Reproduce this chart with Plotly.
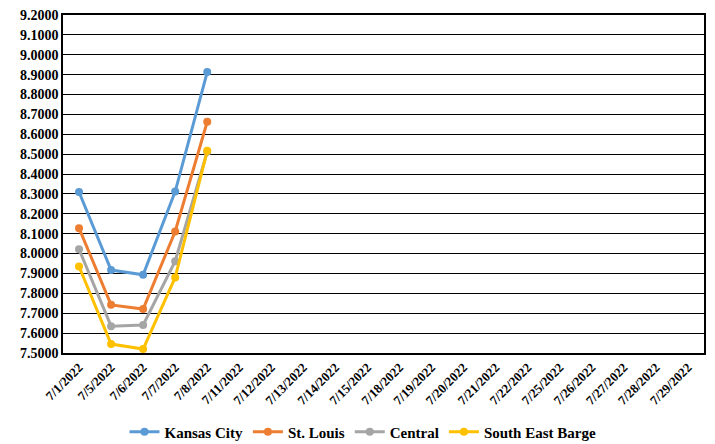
import plotly.graph_objs as go

dates = ['7/1/2022', '7/5/2022', '7/6/2022', '7/7/2022', '7/8/2022', '7/11/2022', '7/12/2022',
         '7/13/2022', '7/14/2022', '7/15/2022', '7/18/2022', '7/19/2022', '7/20/2022', '7/21/2022',
         '7/22/2022', '7/25/2022', '7/26/2022', '7/27/2022', '7/28/2022', '7/29/2022']

kansas_city = [8.310, 7.917, 7.893, 8.312, 8.913]
st_louis = [8.128, 7.742, 7.721, 8.111, 8.663]
central = [8.022, 7.635, 7.641, 7.962, 8.512]
south_east_barge = [7.935, 7.545, 7.520, 7.880, 8.517]

series = [
    ('Kansas City', kansas_city, '#5B9BD5'),
    ('St. Louis', st_louis, '#ED7D31'),
    ('Central', central, '#A5A5A5'),
    ('South East Barge', south_east_barge, '#FFC000'),
]

serif = 'Times New Roman'

data = []
for name, values, color in series:
    data.append(go.Scatter(x=dates[:len(values)],
                           y=values,
                           name=name,
                           mode='lines+markers',
                           line=dict(color=color, width=3),
                           marker=dict(color=color, size=8)))

# page body adds an 8px offset, so the figure is a bit smaller than the window
layout = go.Layout(
    width=707,
    height=436,
    margin=dict(l=55, r=11, t=7, b=91),
    paper_bgcolor='white',
    plot_bgcolor='white',
    font=dict(family=serif, size=13, color='black'),
    showlegend=True,
    legend=dict(orientation='h', x=0.468, xanchor='center', yref='container', y=0.0275,
                yanchor='middle', itemwidth=30,
                font=dict(family=serif, size=15, color='black', weight='bold')),
    xaxis=dict(type='category', categoryorder='array', categoryarray=dates,
               tickvals=dates, range=[-0.5, len(dates) - 0.5], automargin=False,
               tickangle=-45, showgrid=False, showline=True, linecolor='black', linewidth=1.5,
               mirror=True, ticks='',
               tickfont=dict(family=serif, size=13, color='black', weight='bold')),
    yaxis=dict(range=[7.4999, 9.2001], tick0=7.5, dtick=0.1, tickformat='.4f', showgrid=True,
               automargin=False, ticklabeloverflow='allow', gridcolor='black', gridwidth=1,
               showline=True, linecolor='black', linewidth=1.5, mirror=True, zeroline=False,
               ticks='', tickfont=dict(family=serif, size=14, color='black', weight='bold'))
)

fig = go.Figure(data=data, layout=layout)
fig.write_html("out.html")
